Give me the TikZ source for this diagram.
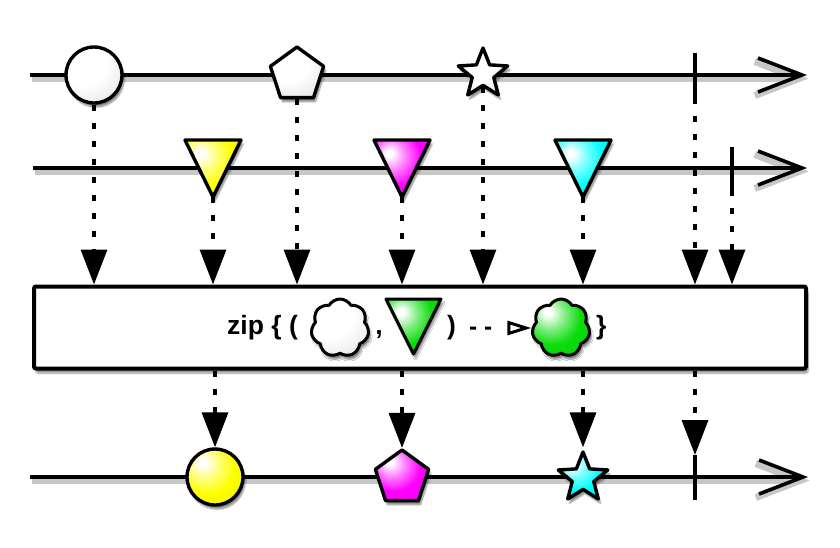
\documentclass[tikz,border=0pt]{standalone}
\usepackage{fontspec}
\setsansfont{Liberation Sans}
\usetikzlibrary{arrows.meta,shapes.geometric,shapes.symbols,shadows.blur}

\definecolor{zipgreen}{RGB}{10,220,10}
\newcommand\glossy[2]{%
  \pgfdeclareradialshading{glossy#1}{\pgfpoint{-12bp}{14bp}}{%
    color(0bp)=(white); color(3bp)=(white); color(13bp)=(#2!50!white);
    color(25bp)=(#2); color(52bp)=(#2!90!black); color(75bp)=(#2!78!black)}}
\glossy{yellow}{yellow}
\glossy{magenta}{magenta}
\glossy{cyan}{cyan}
\glossy{green}{zipgreen}
\pgfdeclareradialshading{glossywhite}{\pgfpoint{-12bp}{14bp}}{%
    color(0bp)=(white); color(20bp)=(white); color(42bp)=(black!12); color(58bp)=(black!26); color(75bp)=(black!34)}

\tikzset{
  timeline/.style={line width=3.6pt, -{Straight Barb[length=44pt,width=34pt]},
    preaction={draw=black!22, line width=7pt, transform canvas={shift={(1.5pt,-3.5pt)}}}},
  marble/.style={draw, line width=3.4pt, line join=round, inner sep=0pt, shade,
    blur shadow={shadow xshift=2pt, shadow yshift=-4pt, shadow opacity=50, shadow blur steps=8}},
  ball/.style={marble, circle, minimum size=56pt},
  penta/.style={marble, regular polygon, regular polygon sides=5, minimum size=56pt},
  starm/.style={marble, star, star points=5, star point ratio=2.3, minimum size=52pt},
  puff/.style={marble, cloud, cloud puffs=7, cloud puff arc=120, aspect=1, minimum size=58pt, line width=3pt},
  emit/.style={line width=3.4pt, dash pattern=on 6pt off 12pt, -{Triangle[length=35pt,width=26pt,fill=black]}},
  tick/.style={line width=3.6pt},
  optext/.style={font=\sffamily\bfseries\fontsize{26.5}{30}\selectfont, inner sep=0pt},
  mapsto/.style={line width=3pt, dash pattern=on 6pt off 9pt on 6pt off 20pt, -{Triangle[open,length=24pt,width=14pt]}}
}

\begin{document}
\begin{tikzpicture}[x=1pt,y=-1pt]
    \useasboundingbox (0,0) rectangle (840,547);

    % first source
    \draw[timeline] (30,75) -- (807,75);
    \node[ball, shading=glossywhite] (a1) at (94,75) {};
    \node[penta, shading=glossywhite] (a2) at (297,75) {};
    \node[starm, shading=glossywhite] (a3) at (483,74) {};
    \coordinate (a4) at (695,98);
    \draw[tick] (695,53) -- (a4);

    % second source
    \draw[timeline] (33,168) -- (807,168);
    \foreach \x/\c/\n in {213/yellow/b1,402/magenta/b2,583/cyan/b3}{
        \draw[marble, shading=glossy\c] (\x-28,140) -- (\x+28,140) -- (\x,197) -- cycle;
        \coordinate (\n) at (\x,197);
    }
    \coordinate (b4) at (732,190);
    \draw[tick] (732,147) -- (b4);

    % operator
    \node[draw, fill=white, line width=4pt, rounded corners=2pt, minimum width=772pt, minimum height=82pt,
        blur shadow={shadow xshift=2pt, shadow yshift=-4.5pt, shadow opacity=45, shadow blur steps=8}] (zip) at (420,327.5) {};
    \node[optext, anchor=base west] (zipword) at (227,334) {zip \{ (};
    \node[puff, shading=glossywhite] (pair1) at (340,328) {};
    \node[optext, anchor=base] (comma) at (379,334) {,};
    \draw[marble, shading=glossygreen, line width=3pt] (386,299) -- (441,299) -- (413.5,354) -- cycle;
    \node[optext, anchor=base west] (rparen) at (447,334) {)};
    \node[puff, shading=glossygreen] (result) at (561,328) {};
    \coordinate (dash0) at (470,328);
    \draw[mapsto] (dash0) -- (result.west);
    \node[optext, anchor=base west] (rbrace) at (596,334) {\}};

    \foreach \n in {a1,a2,a3}
        \draw[emit] (\n.south) -- (\n.south |- zip.north);
    \foreach \n in {b1,b2,b3,a4,b4}
        \draw[emit] (\n) -- (\n |- zip.north);

    % result
    \draw[timeline] (30,477) -- (808,477);
    \node[ball, shading=glossyyellow] (c1) at (215,477) {};
    \node[penta, shading=glossymagenta] (c2) at (402,478) {};
    \node[starm, shading=glossycyan] (c3) at (583,478) {};
    \coordinate (c4) at (695,455);
    \draw[tick] (c4) -- (695,500);
    \foreach \n in {c1,c2,c3}
        \draw[emit] (\n.north |- zip.south) -- (\n.north);
    \draw[emit] (c4 |- zip.south) -- (c4);

\end{tikzpicture}
\end{document}
